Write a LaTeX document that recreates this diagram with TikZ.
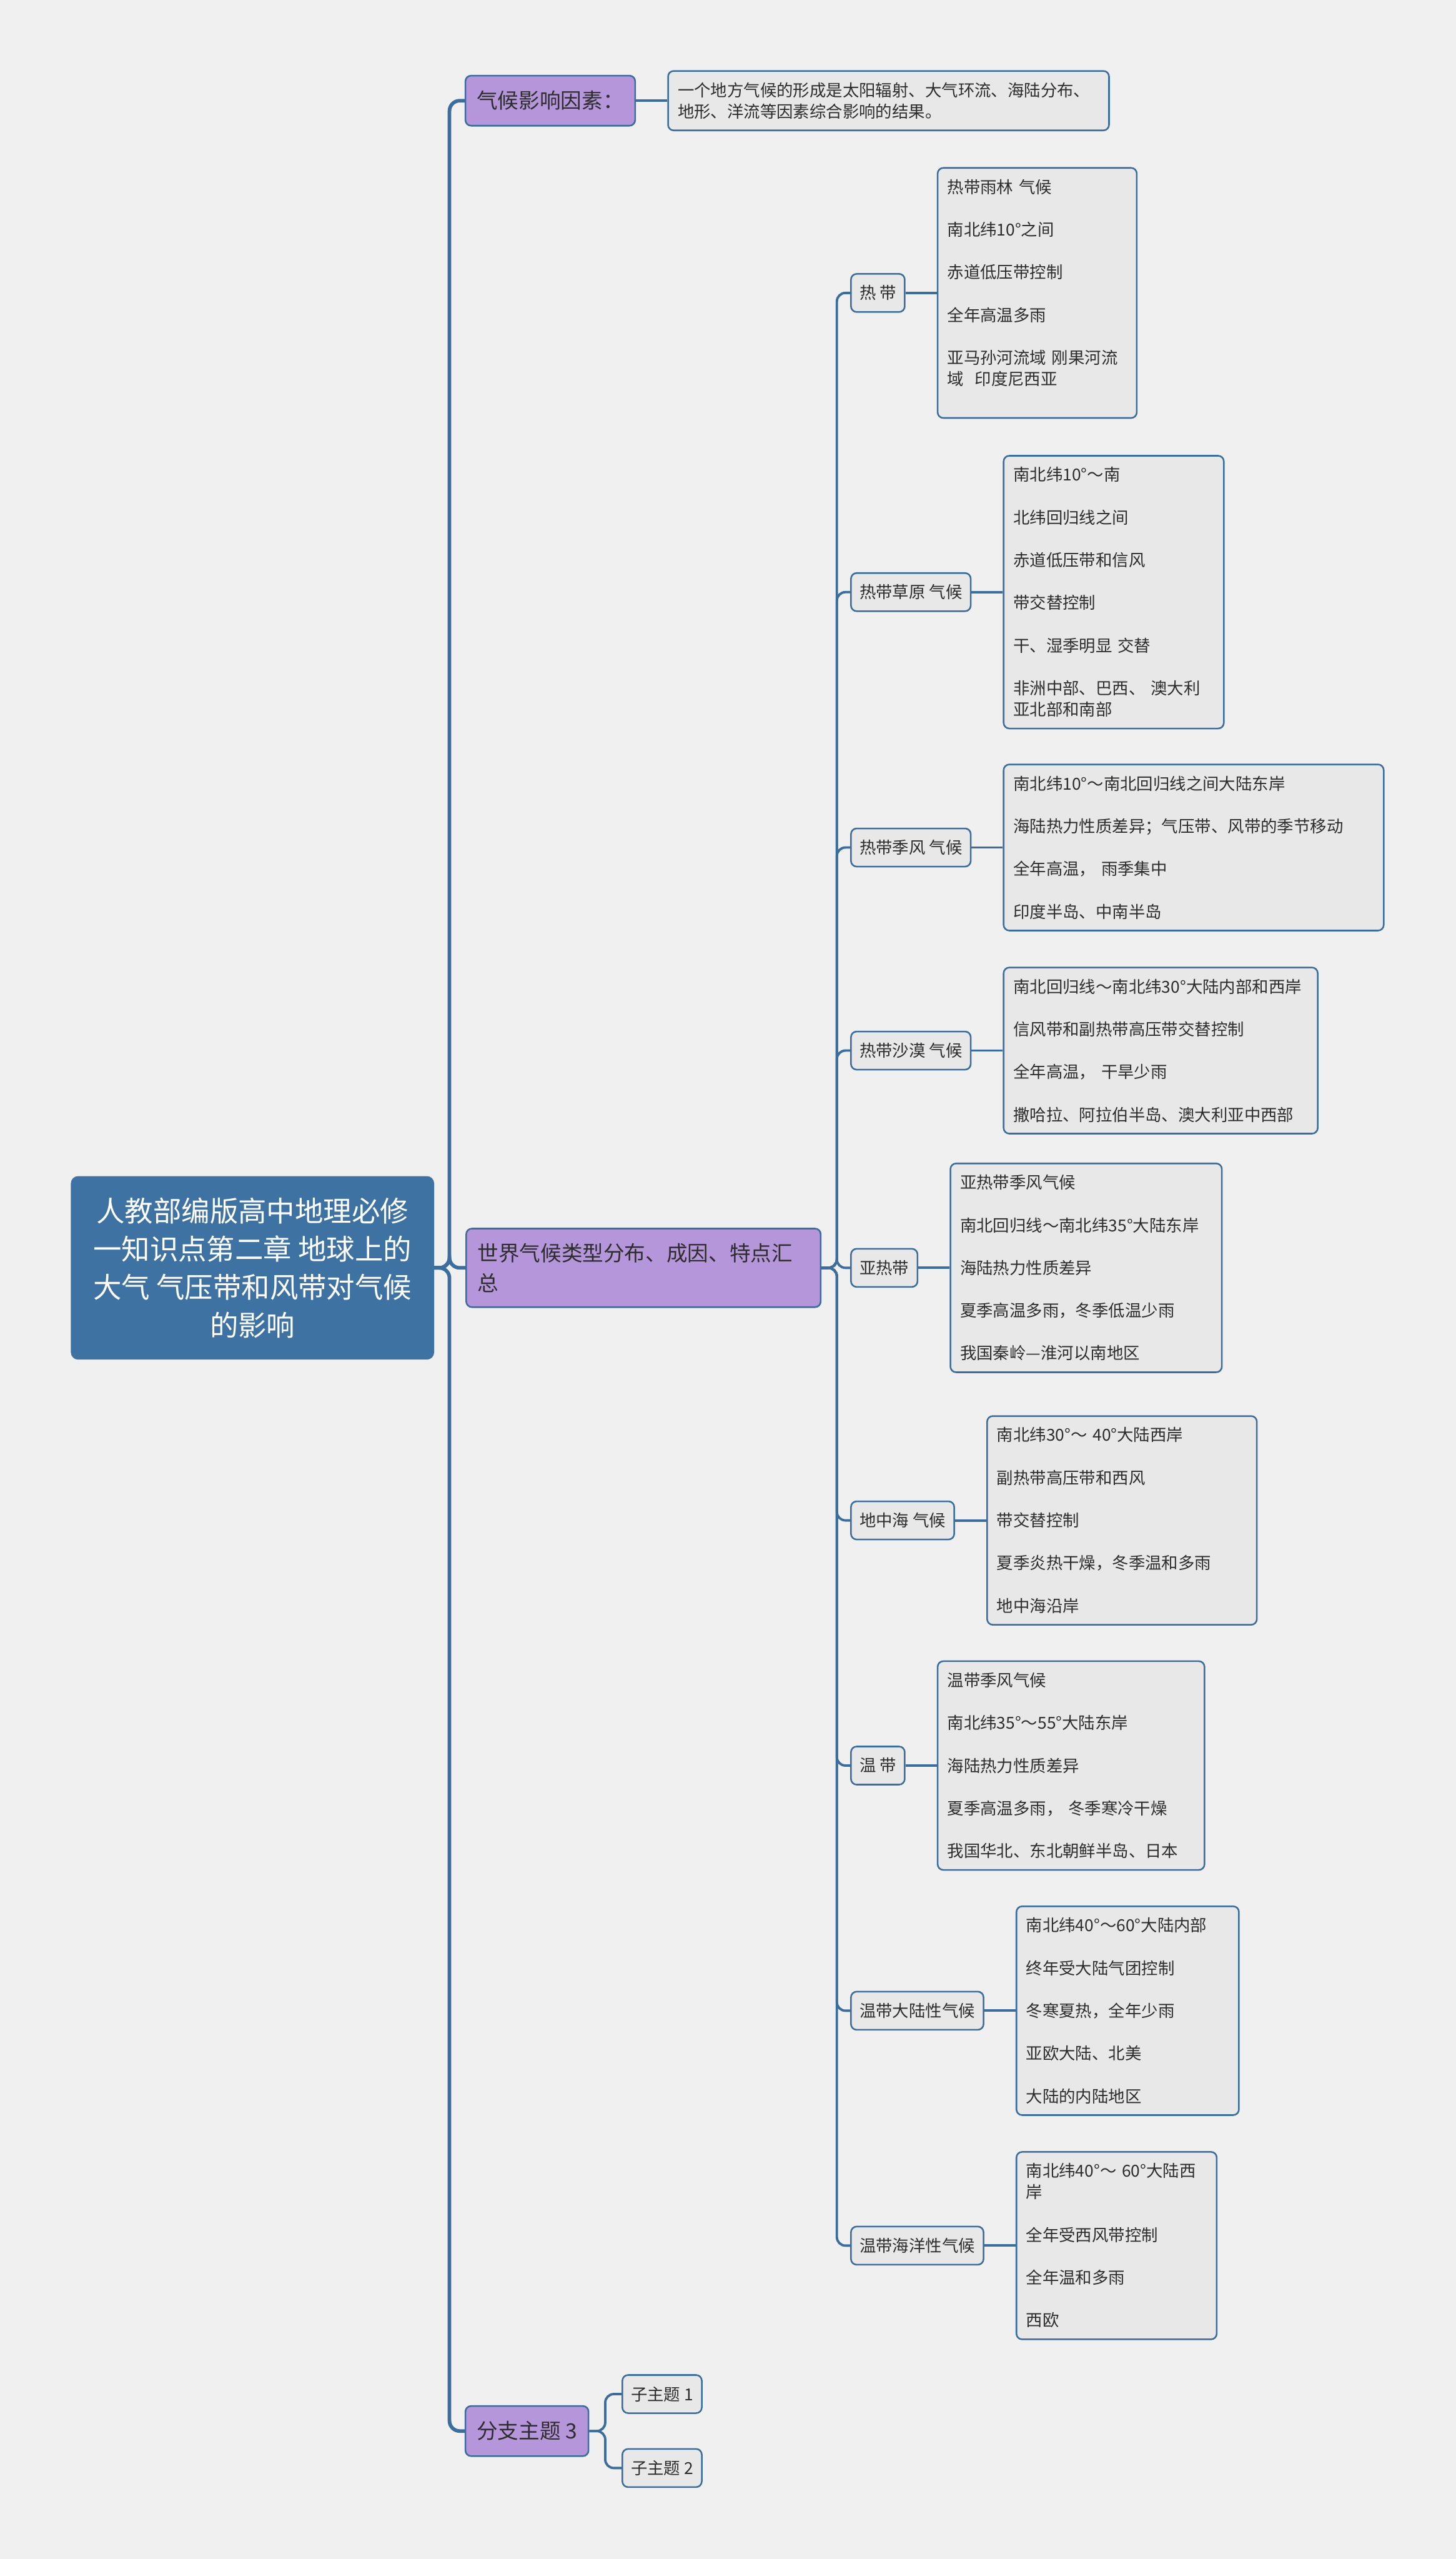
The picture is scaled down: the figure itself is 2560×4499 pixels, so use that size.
\documentclass[tikz,border=0pt]{standalone}
\usepackage{fontspec}
\setmainfont{Noto Sans CJK SC}
\usepackage{tikz}
\usetikzlibrary{positioning}
\definecolor{mapblue}{RGB}{59,110,158}
\definecolor{rootblue}{RGB}{62,114,163}
\definecolor{topicpurple}{RGB}{182,150,218}
\definecolor{notegray}{RGB}{232,232,232}
\definecolor{paper}{RGB}{240,240,240}
\definecolor{ink}{RGB}{45,45,45}
\newcommand{\rootsize}{\fontsize{14.2pt}{19.06pt}\selectfont}
\newcommand{\topicsize}{\fontsize{10.5pt}{15.1pt}\selectfont}
\newcommand{\notesize}{\fontsize{8.25pt}{10.67pt}\selectfont}
\tikzset{
  rootbox/.style={draw=rootblue, fill=rootblue, rounded corners=0.12cm, text=white,
    font=\rootsize, align=center, minimum width=6.37cm, minimum height=3.21cm},
  topicbox/.style={draw=mapblue, line width=0.8pt, fill=topicpurple, rounded corners=0.1cm,
    text=ink, font=\topicsize, align=left, minimum height=0.88cm, inner xsep=0.2cm, anchor=west},
  zonebox/.style={draw=mapblue, line width=0.8pt, fill=notegray, rounded corners=0.1cm,
    text=ink, font=\notesize, minimum height=0.67cm, inner xsep=0.15cm, anchor=west},
  notebox/.style={draw=mapblue, line width=0.8pt, fill=notegray, rounded corners=0.1cm,
    text=ink, font=\notesize, align=left, inner xsep=0.17cm, inner ysep=0.2cm},
  link/.style={draw=mapblue, line width=1.8pt, rounded corners=0.18cm},
  sublink/.style={draw=mapblue, line width=1.2pt, rounded corners=0.15cm},
}

\begin{document}
\begin{tikzpicture}[x=0.01cm, y=-0.01cm, node distance=0.55cm]
\fill[paper] (0,0) rectangle (2560,4499);
\useasboundingbox (0,0) rectangle (2560,4499);

% root and first level
\node[rootbox] (root) at (444,2229) {人教部编版高中地理必修\\一知识点第二章 地球上的\\大气 气压带和风带对气候\\的影响};
\node[topicbox] (clim) at (817,177) {气候影响因素：};
\node[topicbox, text width=5.83cm, minimum height=1.38cm, right=of root] (world) {世界气候类型分布、成因、特点汇\\总};
\node[topicbox] (branch) at (817,4274) {分支主题 3};

\node[notebox, text width=7.41cm, right=of clim] (clim-info) {一个地方气候的形成是太阳辐射、大气环流、海陆分布、\\
地形、洋流等因素综合影响的结果。};

% climate zones
\node[zonebox] (tropic) at (1495,515) {热 带};
\node[zonebox] (savanna) at (1495,1041) {热带草原 气候};
\node[zonebox] (monsoon) at (1495,1490) {热带季风 气候};
\node[zonebox] (desert) at (1495,1847) {热带沙漠 气候};
\node[zonebox] (subtropic) at (1495,2229) {亚热带};
\node[zonebox] (medit) at (1495,2673) {地中海 气候};
\node[zonebox] (temperate) at (1495,3104) {温 带};
\node[zonebox] (continental) at (1495,3535) {温带大陆性气候};
\node[zonebox] (oceanic) at (1495,3948) {温带海洋性气候};

% notes
\node[notebox, text width=3.16cm, right=of tropic] (tropic-info) {热带雨林 气候\\[10.67pt]
南北纬10°之间\\[10.67pt]
赤道低压带控制\\[10.67pt]
全年高温多雨\\[10.67pt]
亚马孙河流域 刚果河流\\
域\ \ 印度尼西亚\\
\mbox{}};
\node[notebox, text width=3.53cm, right=of savanna] (savanna-info) {南北纬10°～南\\[10.67pt]
北纬回归线之间\\[10.67pt]
赤道低压带和信风\\[10.67pt]
带交替控制\\[10.67pt]
干、湿季明显 交替\\[10.67pt]
非洲中部、巴西、 澳大利\\
亚北部和南部};
\node[notebox, text width=6.34cm, right=of monsoon] (monsoon-info) {南北纬10°～南北回归线之间大陆东岸\\[10.67pt]
海陆热力性质差异；气压带、风带的季节移动\\[10.67pt]
全年高温， 雨季集中\\[10.67pt]
印度半岛、中南半岛};
\node[notebox, text width=5.18cm, right=of desert] (desert-info) {南北回归线～南北纬30°大陆内部和西岸\\[10.67pt]
信风带和副热带高压带交替控制\\[10.67pt]
全年高温， 干旱少雨\\[10.67pt]
撒哈拉、阿拉伯半岛、澳大利亚中西部};
\node[notebox, text width=4.43cm, right=of subtropic] (subtropic-info) {亚热带季风气候\\[10.67pt]
南北回归线～南北纬35°大陆东岸\\[10.67pt]
海陆热力性质差异\\[10.67pt]
夏季高温多雨，冬季低温少雨\\[10.67pt]
我国秦岭—淮河以南地区};
\node[notebox, text width=4.40cm, right=of medit] (medit-info) {南北纬30°～ 40°大陆西岸\\[10.67pt]
副热带高压带和西风\\[10.67pt]
带交替控制\\[10.67pt]
夏季炎热干燥，冬季温和多雨\\[10.67pt]
地中海沿岸};
\node[notebox, text width=4.35cm, right=of temperate] (temperate-info) {温带季风气候\\[10.67pt]
南北纬35°～55°大陆东岸\\[10.67pt]
海陆热力性质差异\\[10.67pt]
夏季高温多雨， 冬季寒冷干燥\\[10.67pt]
我国华北、东北朝鲜半岛、日本};
\node[notebox, text width=3.57cm, right=of continental] (continental-info) {南北纬40°～60°大陆内部\\[10.67pt]
终年受大陆气团控制\\[10.67pt]
冬寒夏热，全年少雨\\[10.67pt]
亚欧大陆、北美\\[10.67pt]
大陆的内陆地区};
\node[notebox, text width=3.18cm, right=of oceanic] (oceanic-info) {南北纬40°～ 60°大陆西\\
岸\\[10.67pt]
全年受西风带控制\\[10.67pt]
全年温和多雨\\[10.67pt]
西欧};

% sub topics
\node[zonebox] (subone) at (1093,4209) {子主题 1};
\node[zonebox] (subtwo) at (1093,4339) {子主题 2};

% connectors
\foreach \n in {clim,world,branch}
  \draw[link] (root.east) -- ++(27,0) |- (\n.west);
\foreach \n in {tropic,savanna,monsoon,desert,subtropic,medit,temperate,continental,oceanic}
  \draw[sublink] (world.east) -- ++(27,0) |- (\n.west);
\foreach \n in {clim,tropic,savanna,monsoon,desert,subtropic,medit,temperate,continental,oceanic}
  \draw[sublink] (\n.east) -- (\n-info.west);
\foreach \n in {subone,subtwo}
  \draw[sublink] (branch.east) -- ++(28,0) |- (\n.west);
\end{tikzpicture}
\end{document}
